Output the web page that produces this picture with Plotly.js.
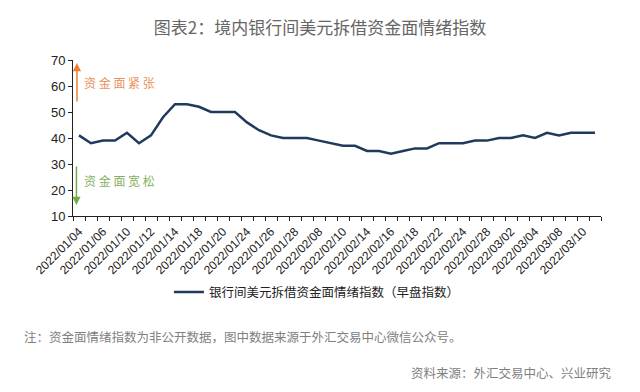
<!DOCTYPE html>
<html>
<head>
<meta charset="utf-8">
<script src="https://cdn.plot.ly/plotly-3.0.1.min.js"></script>
<style>html,body{margin:0;padding:0;background:#fff}#chart{width:640px;height:392px}</style>
</head>
<body>
<div id="chart"></div>
<script>
// ---- data ----
const dates = [
  "2022/01/04","2022/01/05","2022/01/06","2022/01/07","2022/01/10","2022/01/11","2022/01/12","2022/01/13","2022/01/14",
  "2022/01/17","2022/01/18","2022/01/19","2022/01/20","2022/01/21","2022/01/24","2022/01/25","2022/01/26","2022/01/27",
  "2022/01/28","2022/02/07","2022/02/08","2022/02/09","2022/02/10","2022/02/11","2022/02/14","2022/02/15","2022/02/16",
  "2022/02/17","2022/02/18","2022/02/21","2022/02/22","2022/02/23","2022/02/24","2022/02/25","2022/02/28","2022/03/01",
  "2022/03/02","2022/03/03","2022/03/04","2022/03/07","2022/03/08","2022/03/09","2022/03/10","2022/03/11"
];
const sentiment = [
  41,38,39,39,42,38,41,48,53,
  53,52,50,50,50,46,43,41,40,
  40,40,39,38,37,37,35,35,34,
  35,36,36,38,38,38,39,39,40,
  40,41,40,42,41,42,42,42
];
const yTicks = [10,20,30,40,50,60,70];
const seriesName = "银行间美元拆借资金面情绪指数（早盘指数）";
const titleText = "图表2：境内银行间美元拆借资金面情绪指数";
const tightText = "资 金 面 紧 张";
const looseText = "资 金 面 宽 松";
const noteText = "注：资金面情绪指数为非公开数据，图中数据来源于外汇交易中心微信公众号。";
const sourceText = "资料来源：外汇交易中心、兴业研究";

const tickText = dates.map((d, i) => (i % 2 === 0 ? d : ""));
const latin = "Arial, 'Liberation Sans', sans-serif";
const cjk = "'Noto Sans CJK SC', 'Noto Sans', sans-serif";

const trace = {
  type: "scatter",
  mode: "lines",
  x: dates,
  y: sentiment,
  name: seriesName,
  line: {color: "#1f3a5c", width: 2.5},
  hoverinfo: "x+y"
};

const layout = {
  width: 640, height: 392,
  margin: {l: 73, r: 39, t: 60, b: 176},
  paper_bgcolor: "#ffffff",
  plot_bgcolor: "#ffffff",
  font: {family: cjk, color: "#222"},
  title: {
    text: titleText,
    font: {family: cjk, size: 17, color: "#666666"},
    x: 0.5, xref: "container", xanchor: "center",
    y: 1 - 28/392, yref: "container", yanchor: "middle"
  },
  showlegend: true,
  legend: {
    orientation: "h",
    x: 0.462, xanchor: "center",
    y: -0.49, yanchor: "middle",
    font: {family: cjk, size: 12.5, color: "#222"},
    bgcolor: "rgba(0,0,0,0)"
  },
  xaxis: {
    type: "category",
    range: [-0.5, dates.length - 0.5],
    tickmode: "array",
    tickvals: dates,
    ticktext: tickText,
    tickson: "boundaries",
    ticks: "outside", ticklen: 4, tickcolor: "#222", tickwidth: 1,
    tickangle: -45,
    ticklabelstandoff: 3,
    tickfont: {family: latin, size: 12, color: "#222"},
    showline: true, linecolor: "#222", linewidth: 1,
    showgrid: false, zeroline: false,
    fixedrange: true
  },
  yaxis: {
    range: [10, 70],
    tickmode: "array",
    tickvals: yTicks,
    ticks: "outside", ticklen: 4, tickcolor: "#222", tickwidth: 1,
    tickfont: {family: latin, size: 13, color: "#222"},
    showline: true, linecolor: "#222", linewidth: 1,
    showgrid: false, zeroline: false,
    fixedrange: true
  },
  annotations: [
    // orange up arrow (tight)
    {xref: "paper", yref: "y", x: 0.0075, y: 68.8, ax: 0, ay: 40, axref: "pixel", ayref: "pixel",
     showarrow: true, arrowhead: 2, arrowsize: 1.1, arrowwidth: 1.5, arrowcolor: "#ED7D31", text: ""},
    {xref: "paper", yref: "y", x: 0.017, y: 61.5, xanchor: "left", yanchor: "middle", showarrow: false,
     text: tightText, font: {family: cjk, size: 12, color: "#E8925A"}},
    // green down arrow (loose)
    {xref: "paper", yref: "y", x: 0.0065, y: 14.2, ax: 0, ay: -40, axref: "pixel", ayref: "pixel",
     showarrow: true, arrowhead: 2, arrowsize: 1.1, arrowwidth: 1.5, arrowcolor: "#70AD47", text: ""},
    {xref: "paper", yref: "y", x: 0.017, y: 23.8, xanchor: "left", yanchor: "middle", showarrow: false,
     text: looseText, font: {family: cjk, size: 12, color: "#86B060"}},
    // note and source
    {xref: "paper", yref: "paper", x: (22 - 73) / 528, y: (216 - 336) / 156, xanchor: "left", yanchor: "middle",
     showarrow: false, text: noteText, font: {family: cjk, size: 12.5, color: "#808080"}},
    {xref: "paper", yref: "paper", x: (614 - 73) / 528, y: (216 - 372) / 156, xanchor: "right", yanchor: "middle",
     showarrow: false, text: sourceText, font: {family: cjk, size: 12.5, color: "#808080"}}
  ]
};

Plotly.newPlot("chart", [trace], layout, {displayModeBar: false, staticPlot: true});
</script>
</body>
</html>
